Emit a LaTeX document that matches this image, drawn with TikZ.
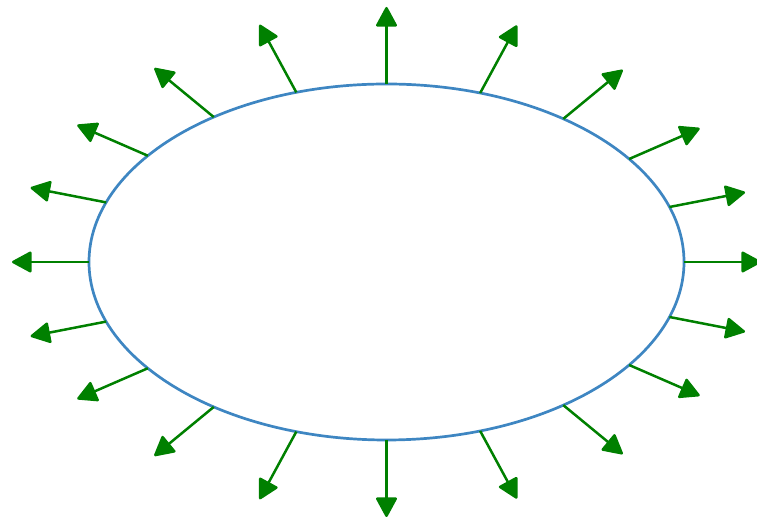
\documentclass[tikz,border=0pt]{standalone}
\usetikzlibrary{arrows.meta,shapes.geometric}
\definecolor{ellblue}{RGB}{62,134,194}
\definecolor{arrgreen}{RGB}{0,128,0}
\begin{document}
\begin{tikzpicture}[x=1pt,y=1pt,
  rim/.style={draw=ellblue,line width=2.7pt,ellipse,minimum width=595pt,minimum height=356pt,inner sep=0pt,outer sep=0pt},
  outarrow/.style={draw=arrgreen,line width=2.5pt,-{Triangle[length=21pt,width=22pt,round]}}]
\useasboundingbox (0,0) rectangle (757,521);
\node[rim] (e) at (386.5,259) {};
\foreach \t in {0,18,...,342}{
  \pgfmathsetmacro\ang{atan2(178*sin(\t),297.5*cos(\t))}
  \draw[outarrow] (e.\ang) -- ++(\ang:77);
}
\end{tikzpicture}
\end{document}
